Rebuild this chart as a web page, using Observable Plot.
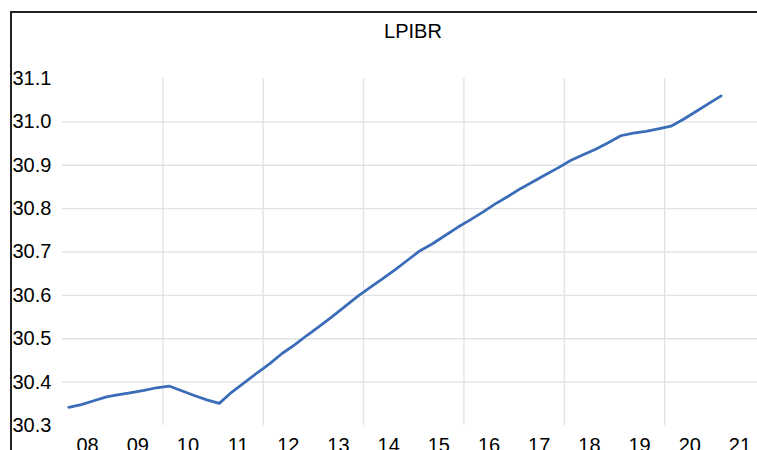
<!DOCTYPE html>
<html><head><meta charset="utf-8">
<script src="https://cdn.jsdelivr.net/npm/d3@7"></script>
<script src="https://cdn.jsdelivr.net/npm/@observablehq/plot@0.6"></script>
<style>
html,body{margin:0;padding:0;background:#fff;}
#wrap{position:relative;width:757px;height:450px;overflow:hidden;background:#fff;}
#wrap svg{position:absolute;left:0;top:0;}
#frame{position:absolute;left:10px;top:11px;width:900px;height:600px;border-left:2px solid #222;border-top:2px solid #222;z-index:2;}
</style></head>
<body><div id="wrap"><div id="frame"></div></div>
<script>
// Quarterly periods 2008Q1 .. 2021Q1
const years = [2008,2009,2010,2011,2012,2013,2014,2015,2016,2017,2018,2019,2020,2021];
const quarterNames = ["Q1","Q2","Q3","Q4"];
const periods = years.flatMap(y => quarterNames.map(q => `${y}${q}`)).slice(0, 53);

// LPIBR values
const lpibr = [
  30.342, 30.348, 30.357, 30.366, 30.371, 30.376, 30.381, 30.387,
  30.391, 30.380, 30.369, 30.359, 30.351, 30.377, 30.399, 30.421,
  30.442, 30.466, 30.486, 30.508, 30.529, 30.551, 30.574, 30.597,
  30.618, 30.638, 30.659, 30.681, 30.703, 30.719, 30.738, 30.757,
  30.774, 30.792, 30.811, 30.828, 30.846, 30.862, 30.878, 30.894,
  30.911, 30.924, 30.937, 30.952, 30.968, 30.974, 30.978, 30.984,
  30.990, 31.006, 31.024, 31.042, 31.060
];

const yTickLabels = [30.3, 30.4, 30.5, 30.6, 30.7, 30.8, 30.9, 31.0, 31.1];
const yGridValues = [30.4, 30.5, 30.6, 30.7, 30.8, 30.9, 31.0];
const xLabelYears = [2008,2009,2010,2011,2012,2013,2014,2015,2016,2017,2018,2019,2020,2021];
const xGridYears = [2008,2010,2012,2014,2016,2018,2020];
const title = "LPIBR";

const data = lpibr.map((v, i) => ({period: periods[i], idx: i, value: v}));
const yearCenter = y => (y - 2008) * 4 + 1.5;
const yearStart = y => (y - 2008) * 4 - 0.5;

const chart = Plot.plot({
  width: 757,
  height: 450,
  marginLeft: 62,
  marginRight: 0,
  marginTop: 78,
  marginBottom: 25,
  x: {domain: [-0.5, 54.9], axis: null},
  y: {domain: [30.3, 31.1], axis: null},
  style: {fontFamily: "'Liberation Sans', Arial, sans-serif", fontSize: "20px", background: "transparent", overflow: "visible", color: "#000"},
  marks: [
    Plot.ruleY(yGridValues, {y: d => d, stroke: "#e2e2e2", strokeWidth: 1.3}),
    Plot.ruleX(xGridYears.slice(1), {x: yearStart, stroke: "#e2e2e2", strokeWidth: 1.3}),
    Plot.line(data, {x: "idx", y: "value", stroke: "#3b6cb7", strokeWidth: 2.75}),
    Plot.text(yTickLabels, {y: d => d, text: d => d.toFixed(1), frameAnchor: "left", textAnchor: "start", lineAnchor: "middle", dx: -50, fill: "#000", fontSize: 20}),
    Plot.text(xLabelYears, {x: yearCenter, text: y => String(y % 100).padStart(2, "0"), frameAnchor: "bottom", lineAnchor: "middle", dy: 20, fill: "#000", fontSize: 20}),
    Plot.text([title], {text: d => d, frameAnchor: "top", lineAnchor: "middle", dy: -47, dx: 3, fill: "#000", fontSize: 20})
  ]
});
document.getElementById("wrap").insertBefore(chart, document.getElementById("frame"));
</script>
</body></html>
